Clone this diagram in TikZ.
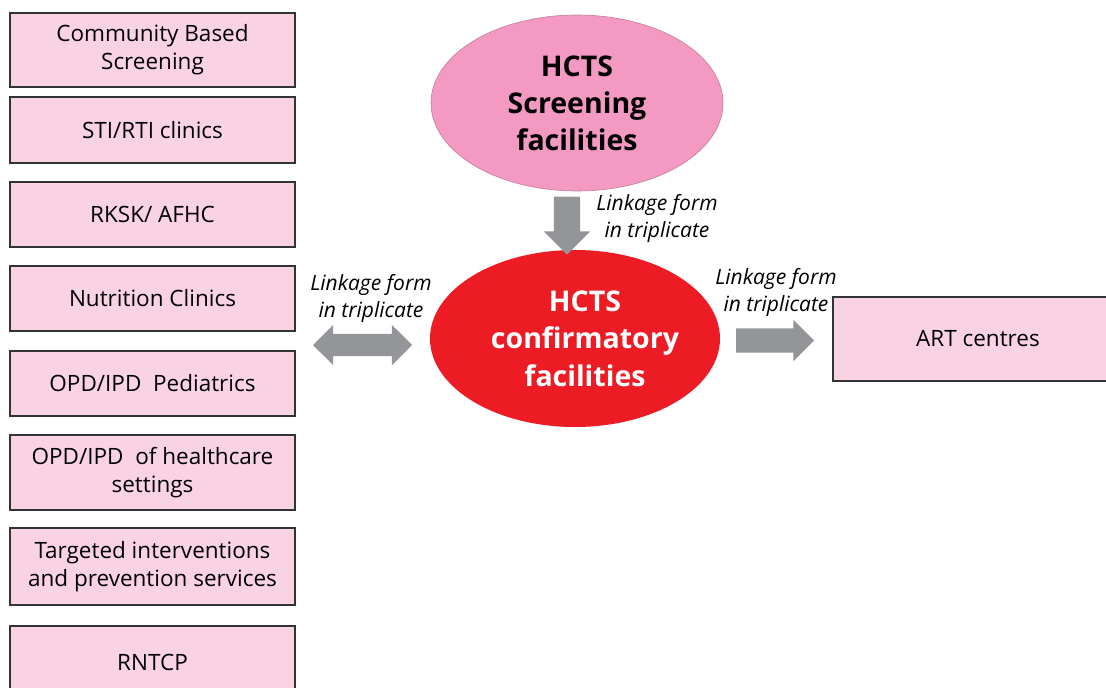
\documentclass[tikz,border=0pt]{standalone}
\usepackage{fontspec}
\setmainfont{Open Sans}
\usetikzlibrary{shapes.geometric,shapes.arrows}
\definecolor{boxpink}{HTML}{F9D3E4}
\definecolor{ellpink}{HTML}{F49AC2}
\definecolor{ellred}{HTML}{ED1C24}
\definecolor{arrgray}{HTML}{939598}
\tikzset{
  srcbox/.style={draw=black!80, line width=1.6pt, fill=boxpink, minimum width=285pt, align=center, font=\fontsize{22.5}{28}\selectfont, inner sep=0pt},
  lbl/.style={font=\itshape\fontsize{21}{27}\selectfont, align=center, inner sep=0pt},
  blockarrow/.style={fill=arrgray, draw=none, inner sep=0pt}
}
\begin{document}
\begin{tikzpicture}[x=1pt,y=-1pt]
\useasboundingbox (0,0) rectangle (1106,688);
\begin{scope}
\clip (0,0) rectangle (1106,688);
\node[srcbox, minimum height=74pt] (b1) at (152.5,50) {Community Based\\Screening};
\node[srcbox, minimum height=66pt] (b2) at (152.5,130) {STI/RTI clinics};
\node[srcbox, minimum height=65pt] (b3) at (152.5,214.5) {RKSK/ AFHC};
\node[srcbox, minimum height=65pt] (b4) at (152.5,298.5) {Nutrition Clinics};
\node[srcbox, minimum height=65pt] (b5) at (152.5,383.5) {OPD/IPD\ \ Pediatrics};
\node[srcbox, minimum height=75pt] (b6) at (152.5,472.5) {OPD/IPD\ \ of healthcare\\settings};
\node[srcbox, minimum height=77pt] (b7) at (152.5,566.5) {Targeted interventions\\and prevention services};
\node[srcbox, minimum height=80pt] (b8) at (152.5,666) {\raisebox{7pt}{RNTCP}};
\node[srcbox, minimum width=290pt, minimum height=84pt] (art) at (978,339) {ART centres};
\end{scope}
\node[ellipse, fill=ellpink, draw=ellpink!80!black, line width=0.6pt, minimum width=292pt, minimum height=176pt, align=center, inner sep=0pt, font=\bfseries\fontsize{28.5}{37}\selectfont] (scr) at (577,103) {HCTS\\Screening\\facilities};
\node[ellipse, fill=ellred, draw=none, minimum width=290pt, minimum height=177pt, inner sep=0pt] (conf) at (575,338.5) {};
\node[align=center, inner sep=0pt, text=white, font=\bfseries\fontsize{28.5}{37.5}\selectfont] (conftext) at (585,338.5) {HCTS\\confirmatory\\facilities};
% down arrow
\node[blockarrow, single arrow, shape border rotate=270, minimum height=58pt, minimum width=46pt, single arrow head extend=10pt] (a1) at (567,219) {\rule{26pt}{0pt}};
% double arrow
\node[blockarrow, double arrow, minimum height=99pt, minimum width=40pt, double arrow head extend=9pt] (a2) at (362.5,345) {\rule{0pt}{22pt}};
% right arrow
\node[blockarrow, single arrow, minimum height=78pt, minimum width=41pt, single arrow head extend=8.5pt] (a3) at (769,340.5) {\rule{0pt}{24pt}};
\node[lbl] (l1) at (657,218) {Linkage form\\in triplicate};
\node[lbl] (l2) at (371,298) {Linkage form\\in triplicate};
\node[lbl] (l3) at (776,292) {Linkage form\\in triplicate};
\end{tikzpicture}
\end{document}
